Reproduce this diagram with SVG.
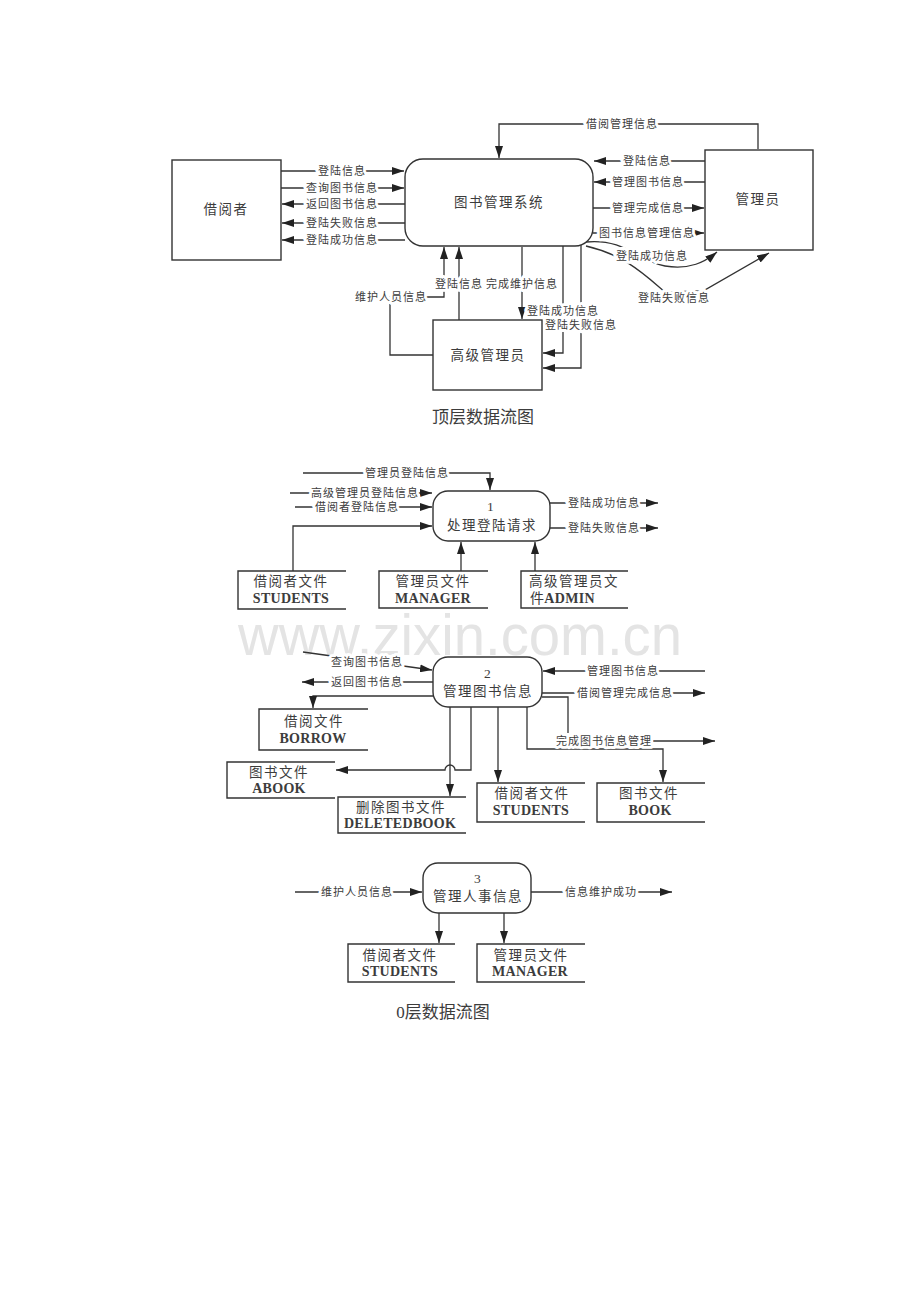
<svg xmlns="http://www.w3.org/2000/svg" width="920" height="1302" viewBox="0 0 920 1302">
<defs>
<marker id="a" viewBox="0 0 12 8" refX="12" refY="4" markerWidth="12" markerHeight="8" markerUnits="userSpaceOnUse" orient="auto"><path d="M0,0 L12,4 L0,8 z" fill="#222"/></marker>
<style>
text{font-family:"Liberation Serif","Noto Sans CJK SC",serif;fill:#3c3c3c;text-anchor:middle;dominant-baseline:central}
.lb{font-size:11px;letter-spacing:1px;stroke:#fff;stroke-width:6px;paint-order:stroke;stroke-linejoin:round}
.nd{font-size:13.5px;letter-spacing:1.5px}
.en{font-size:14px;font-weight:bold;letter-spacing:0.3px}
.cap{font-size:17px}
.box{fill:#fff;stroke:#333;stroke-width:1.4}
.st{fill:none;stroke:#333;stroke-width:1.4}
.c{fill:none;stroke:#333;stroke-width:1.3}
.ar{marker-end:url(#a)}
.wm{font-family:"Liberation Sans",Arial,sans-serif;font-size:57px;fill:#e4e4e4;dominant-baseline:alphabetic}
</style>
</defs>
<rect width="920" height="1302" fill="#fff"/>

<text class="wm" x="460" y="655" textLength="444" lengthAdjust="spacingAndGlyphs">www.zixin.com.cn</text>

<!-- connectors -->
<g id="connectors">
<!-- top level -->
<path class="c ar" d="M281,171 H404"/>
<path class="c ar" d="M281,188 H404"/>
<path class="c ar" d="M405,204 H282"/>
<path class="c ar" d="M405,223 H282"/>
<path class="c ar" d="M405,240 H282"/>
<path class="c ar" d="M758,149 V124 H499 V158"/>
<path class="c ar" d="M705,161 H594"/>
<path class="c ar" d="M705,182 H594"/>
<path class="c ar" d="M593,208 H704"/>
<path class="c ar" d="M593,233 H704"/>
<path class="c ar" d="M586,242 C625,238 640,262 665,266 C690,270 705,262 717,252"/>
<path class="c ar" d="M586,246 C625,255 645,275 665,292 L703,291 L769,253"/>
<path class="c ar" d="M433,355 H390 V297 H444 V247"/>
<path class="c ar" d="M459,320 V247"/>
<path class="c ar" d="M522,247 V319"/>
<path class="c ar" d="M563,246 V353 H543"/>
<path class="c ar" d="M581,244 V368 H543"/>
<!-- level 0, process 1 -->
<path class="c ar" d="M303,473 H490 V490"/>
<path class="c ar" d="M290,493 H432"/>
<path class="c ar" d="M295,507 H432"/>
<path class="c ar" d="M293,571 V526 H432"/>
<path class="c ar" d="M461,571 V542"/>
<path class="c ar" d="M535,571 V542"/>
<path class="c ar" d="M550,503 H658"/>
<path class="c ar" d="M550,528 H658"/>
<!-- process 2 -->
<path class="c ar" d="M303,652 L432,670"/>
<path class="c ar" d="M433,682 H302"/>
<path class="c ar" d="M433,696 H313 V708"/>
<path class="c ar" d="M471,707 V770 H455 A5,5 0 0 0 445,770 H336"/>
<path class="c ar" d="M450,707 V796"/>
<path class="c ar" d="M705,671 H543"/>
<path class="c ar" d="M542,693 H705"/>
<path class="c" d="M542,697 H568 V733"/>
<path class="c ar" d="M653,741 H715"/>
<path class="c ar" d="M527,707 V749 H663 V782"/>
<path class="c ar" d="M498,707 V782"/>
<!-- process 3 -->
<path class="c ar" d="M295,892 H422"/>
<path class="c ar" d="M531,892 H672"/>
<path class="c ar" d="M439,913 V943"/>
<path class="c ar" d="M504,913 V943"/>
</g>

<!-- connector labels -->
<g id="labels">
<text class="lb" x="342" y="171">登陆信息</text>
<text class="lb" x="342" y="188">查询图书信息</text>
<text class="lb" x="342" y="204">返回图书信息</text>
<text class="lb" x="342" y="223">登陆失败信息</text>
<text class="lb" x="342" y="240">登陆成功信息</text>
<text class="lb" x="622" y="124">借阅管理信息</text>
<text class="lb" x="647" y="161">登陆信息</text>
<text class="lb" x="648" y="182">管理图书信息</text>
<text class="lb" x="648" y="208">管理完成信息</text>
<text class="lb" x="647" y="233">图书信息管理信息</text>
<text class="lb" x="652" y="256">登陆成功信息</text>
<text class="lb" x="674" y="298">登陆失败信息</text>
<text class="lb" x="391" y="297">维护人员信息</text>
<text class="lb" x="459" y="284">登陆信息</text>
<text class="lb" x="522" y="284">完成维护信息</text>
<text class="lb" x="563" y="311">登陆成功信息</text>
<text class="lb" x="581" y="325">登陆失败信息</text>

<text class="lb" x="407" y="473">管理员登陆信息</text>
<text class="lb" x="365" y="493">高级管理员登陆信息</text>
<text class="lb" x="357" y="507">借阅者登陆信息</text>
<text class="lb" x="604" y="503">登陆成功信息</text>
<text class="lb" x="604" y="528">登陆失败信息</text>

<text class="lb" x="367" y="662">查询图书信息</text>
<text class="lb" x="367" y="682">返回图书信息</text>
<text class="lb" x="623" y="671">管理图书信息</text>
<text class="lb" x="625" y="693">借阅管理完成信息</text>
<text class="lb" x="604" y="741">完成图书信息管理</text>

<text class="lb" x="357" y="892">维护人员信息</text>
<text class="lb" x="601" y="892">信息维护成功</text>
</g>

<!-- top level nodes -->
<g id="borrower"><rect class="box" x="172" y="160" width="109" height="100"/><text class="nd" x="226" y="209">借阅者</text></g>
<g id="system"><rect class="box" x="405" y="159" width="188" height="87" rx="18"/><text class="nd" x="499" y="202">图书管理系统</text></g>
<g id="admin"><rect class="box" x="705" y="150" width="108" height="100"/><text class="nd" x="758" y="199">管理员</text></g>
<g id="senior"><rect class="box" x="433" y="320" width="109" height="70"/><text class="nd" x="488" y="355">高级管理员</text></g>
<text class="cap" x="483" y="417">顶层数据流图</text>

<!-- level 0 process 1 -->
<g id="p1"><rect class="box" x="433" y="491" width="117" height="50" rx="15"/><text class="nd" x="491" y="506">1</text><text class="nd" x="492" y="525">处理登陆请求</text></g>
<g id="s1a"><path class="st" d="M346,571 H238 V609 H346"/><text class="nd" x="291" y="581">借阅者文件</text><text class="en" x="291" y="598">STUDENTS</text></g>
<g id="s1b"><path class="st" d="M488,571 H379 V608 H488"/><text class="nd" x="433" y="581">管理员文件</text><text class="en" x="433" y="598">MANAGER</text></g>
<g id="s1c"><path class="st" d="M628,571 H521 V608 H628"/><text class="nd" x="529" y="581" style="text-anchor:start">高级管理员文</text><text class="en" x="530" y="598" style="text-anchor:start"><tspan style="font-weight:normal">件</tspan>ADMIN</text></g>

<!-- process 2 -->
<g id="p2"><rect class="box" x="433" y="657" width="109" height="50" rx="15"/><text class="nd" x="488" y="673">2</text><text class="nd" x="488" y="691">管理图书信息</text></g>
<g id="s2a"><path class="st" d="M368,709 H259 V750 H368"/><text class="nd" x="314" y="721">借阅文件</text><text class="en" x="313" y="738">BORROW</text></g>
<g id="s2b"><path class="st" d="M335,762 H227 V798 H335"/><text class="nd" x="279" y="772">图书文件</text><text class="en" x="279" y="788">ABOOK</text></g>
<g id="s2c"><path class="st" d="M466,797 H338 V833 H466"/><text class="nd" x="401" y="807">删除图书文件</text><text class="en" x="400" y="823">DELETEDBOOK</text></g>
<g id="s2d"><path class="st" d="M585,783 H477 V822 H585"/><text class="nd" x="532" y="793">借阅者文件</text><text class="en" x="531" y="810">STUDENTS</text></g>
<g id="s2e"><path class="st" d="M705,783 H597 V822 H705"/><text class="nd" x="649" y="793">图书文件</text><text class="en" x="650" y="810">BOOK</text></g>

<!-- process 3 -->
<g id="p3"><rect class="box" x="423" y="863" width="108" height="50" rx="15"/><text class="nd" x="478" y="878">3</text><text class="nd" x="478" y="896">管理人事信息</text></g>
<g id="s3a"><path class="st" d="M455,944 H348 V982 H455"/><text class="nd" x="400" y="955">借阅者文件</text><text class="en" x="400" y="971">STUDENTS</text></g>
<g id="s3b"><path class="st" d="M585,944 H477 V982 H585"/><text class="nd" x="531" y="955">管理员文件</text><text class="en" x="530" y="971">MANAGER</text></g>
<text class="cap" x="443" y="1012">0层数据流图</text>
</svg>
